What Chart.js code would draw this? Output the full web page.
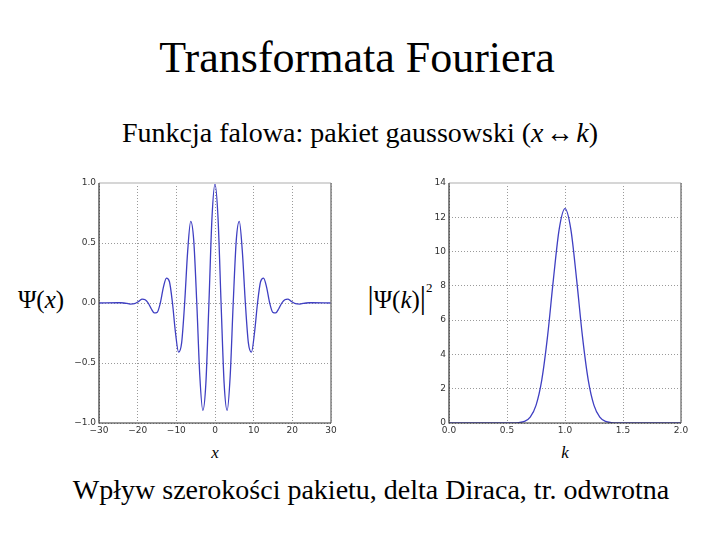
<!DOCTYPE html>
<html>
<head>
<meta charset="utf-8">
<script src="https://cdn.jsdelivr.net/npm/chart.js@4.4.1/dist/chart.umd.min.js"></script>
<style>
  html, body { margin: 0; padding: 0; background: #fff; }
  #page { position: relative; width: 720px; height: 540px; overflow: hidden; font-family: "Liberation Serif", "Times New Roman", serif; color: #000; }
  .t { position: absolute; white-space: nowrap; transform: translate(-50%, -50%); line-height: 1; }
  canvas { position: absolute; }
</style>
</head>
<body>
<div id="page">
  <div class="t" style="left:357px; top:58px; font-size:44px;">Transformata Fouriera</div>
  <div class="t" style="left:360px; top:133px; font-size:28px;">Funkcja falowa: pakiet gaussowski (<i>x</i>&#8202;↔&#8202;<i>k</i>)</div>
  <div class="t" style="left:41px; top:299px; font-size:25px;">Ψ(<i>x</i>)</div>
  <div class="t" style="left:400px; top:297px; font-size:25px;"><span style="font-size:31px;">|</span>Ψ(<i>k</i>)<span style="font-size:31px;">|</span><sup style="font-size:13px; vertical-align: 16px;">2</sup></div>
  <div class="t" style="left:215px; top:452px; font-size:17px;"><i>x</i></div>
  <div class="t" style="left:565px; top:452px; font-size:17px;"><i>k</i></div>
  <div class="t" style="left:371px; top:490px; font-size:28px;">Wpływ szerokości pakietu, delta Diraca, tr. odwrotna</div>
  <canvas id="c1" width="290" height="270" style="left:60px; top:173px; width:290px; height:270px;"></canvas>
  <canvas id="c2" width="300" height="270" style="left:410px; top:173px; width:300px; height:270px;"></canvas>
</div>
<script>
// ---- Data ----
// Left panel: wave packet Psi(x)
const xVals = [
  -30, -25.13, -24.35, -23.56, -22.78, -21.99, -21.21, -20.42, -19.63, -18.85, -18.06,
  -17.28, -16.49, -15.71, -14.92, -14.14, -13.35, -12.57, -11.78, -11.00, -10.21,
  -9.42, -8.64, -7.85, -7.07, -6.28, -5.50, -4.71, -3.93, -3.14, -2.36, -1.57, -0.79,
  0,
  0.79, 1.57, 2.36, 3.14, 3.93, 4.71, 5.50, 6.28, 7.07, 7.85, 8.64, 9.42,
  10.21, 11.00, 11.78, 12.57, 13.35, 14.14, 14.92, 15.71, 16.49, 17.28,
  18.06, 18.85, 19.63, 20.42, 21.21, 21.99, 22.78, 23.56, 24.35, 25.13, 30
];
const psiVals = [
  0, 0.002, 0.002, 0, -0.004, -0.009, -0.008, 0, 0.016, 0.032, 0.027,
  0, -0.048, -0.083, -0.077, 0, 0.13, 0.208, 0.177, 0, -0.25,
  -0.41, -0.335, 0, 0.43, 0.68, 0.522, 0, -0.606, -0.895, -0.669, 0, 0.703,
  0.99,
  0.703, 0, -0.669, -0.895, -0.606, 0, 0.522, 0.68, 0.43, 0, -0.335, -0.41,
  -0.25, 0, 0.177, 0.208, 0.13, 0, -0.077, -0.083, -0.048, 0,
  0.027, 0.032, 0.016, 0, -0.008, -0.009, -0.004, 0, 0.002, 0.002, 0
];
// Right panel: |Psi(k)|^2
const kVals = [0, 0.5, 0.55, 0.6, 0.65, 0.7, 0.75, 0.8, 0.85, 0.9, 0.95, 1.0,
               1.05, 1.1, 1.15, 1.2, 1.25, 1.3, 1.35, 1.4, 1.45, 1.5, 2.0];
const powVals = [0, 0, 0, 0.02, 0.09, 0.34, 1.03, 2.52, 5.08, 8.38, 11.31, 12.5,
                 11.31, 8.38, 5.08, 2.52, 1.03, 0.34, 0.09, 0.02, 0, 0, 0];
// Tick settings
const xTicksLeft = { min: -30, max: 30, step: 10 };
const yTicksLeft = { min: -1, max: 1, step: 0.5 };
const xTicksRight = { min: 0, max: 2, step: 0.5 };
const yTicksRight = { min: 0, max: 14, step: 2 };

const LINE = '#3f3fc2';
const tickFont = { family: 'DejaVu Sans', size: 9 };
const fmt1 = v => Number(v).toFixed(1).replace('-', '\u2212');
const fmt0 = v => String(Math.round(v)).replace('-', '\u2212');

const framePlugin = {
  id: 'frame',
  afterDraw(chart) {
    const a = chart.chartArea, c = chart.ctx;
    c.save();
    c.lineWidth = 2; c.strokeStyle = '#d6d6d6';
    c.beginPath(); c.moveTo(a.left, a.top); c.lineTo(a.right, a.top); c.stroke();
    c.lineWidth = 1.5; c.strokeStyle = '#808080';
    c.beginPath(); c.moveTo(a.right, a.top); c.lineTo(a.right, a.bottom); c.stroke();
    c.lineWidth = 1.2; c.strokeStyle = '#333';
    c.beginPath(); c.moveTo(a.left, a.top); c.lineTo(a.left, a.bottom); c.lineTo(a.right, a.bottom); c.stroke();
    c.restore();
  }
};

function makeChart(id, xs, ys, xt, yt, xfmt, yfmt, padRight) {
  const pts = xs.map((x, i) => ({ x: x, y: ys[i] }));
  return new Chart(document.getElementById(id), {
    type: 'line',
    data: { datasets: [{ data: pts, borderColor: LINE, borderWidth: 1.3, pointRadius: 0,
                         cubicInterpolationMode: 'monotone', fill: false }] },
    options: {
      responsive: false, animation: false,
      layout: { padding: { top: 10, right: padRight, left: 0, bottom: 0 } },
      plugins: { legend: { display: false }, tooltip: { enabled: false } },
      scales: {
        x: {
          type: 'linear', min: xt.min, max: xt.max,
          afterFit(s) { s.height = 20; },
          ticks: { stepSize: xt.step, font: tickFont, color: '#333', padding: 2, maxRotation: 0,
                   callback: xfmt },
          grid: { color: '#9a9a9a', lineWidth: 1, drawTicks: false },
          border: { display: false, dash: [1, 2] }
        },
        y: {
          type: 'linear', min: yt.min, max: yt.max,
          afterFit(s) { s.width = 39; },
          ticks: { stepSize: yt.step, font: tickFont, color: '#333', padding: 3, callback: yfmt },
          grid: { color: '#9a9a9a', lineWidth: 1, drawTicks: false },
          border: { display: false, dash: [1, 2] }
        }
      }
    },
    plugins: [framePlugin]
  });
}

makeChart('c1', xVals, psiVals, xTicksLeft, yTicksLeft, fmt0, fmt1, 19);
makeChart('c2', kVals, powVals, xTicksRight, yTicksRight, fmt1, fmt0, 29);
</script>
</body>
</html>
